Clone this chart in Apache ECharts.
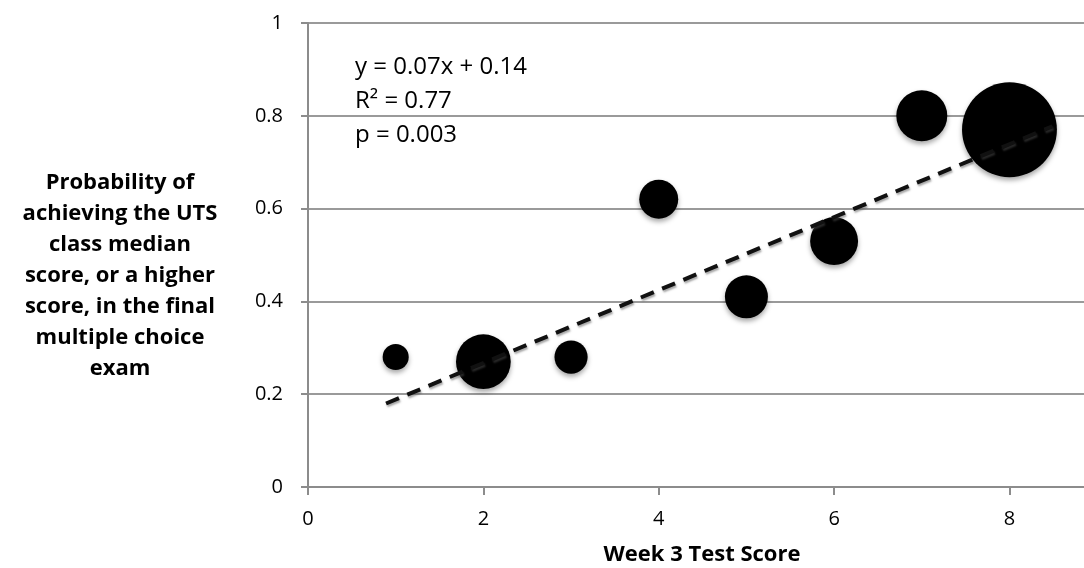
<!DOCTYPE html>
<html lang="en">

<head>
    <meta charset="UTF-8">
    <title>Week 3 Test Score</title>
    <script src="https://cdn.jsdelivr.net/npm/echarts@6/dist/echarts.min.js"></script>
    <style>
        html, body { margin: 0; padding: 0; background: #fff; }
        #bubble_show { width: 1084px; height: 568px; }
    </style>
</head>

<body>
    <div id="bubble_show"></div>

    <script>
        // 数据
        var scores = [1, 2, 3, 4, 5, 6, 7, 8];                         // Week 3 Test Score
        var probs = [0.28, 0.27, 0.28, 0.62, 0.41, 0.53, 0.80, 0.77];   // probability
        var counts = [6.8, 30, 11, 15.2, 18.5, 23, 26, 90];            // bubble size
        var xMax = 8.85;   // axis runs off the right edge of the picture
        var yTicks = [0, 0.2, 0.4, 0.6, 0.8, 1];

        // trendline as drawn in the picture
        var trendSlope = 0.0786;
        var trendIntercept = 0.11;
        var trendFrom = 0.89;
        var trendTo = 8.49;

        var eqLines = ['y = 0.07x + 0.14', 'R² = 0.77', 'p = 0.003'];
        var yName = ['Probability of', 'achieving the UTS', 'class median',
            'score, or a higher', 'score, in the final', 'multiple choice', 'exam'];

        var bubbles = [];
        for (var i = 0; i < scores.length; i++) {
            bubbles.push([scores[i], probs[i], counts[i]]);
        }
        var trend = [
            [trendFrom, trendSlope * trendFrom + trendIntercept],
            [trendTo, trendSlope * trendTo + trendIntercept]
        ];

        var myChart = echarts.init(document.getElementById('bubble_show'));
        var font = '"Open Sans", sans-serif';

        var option = {
            animation: false,
            grid: {
                left: 308,
                top: 23,
                right: 0,
                bottom: 81
            },
            xAxis: {
                type: 'value',
                min: 0,
                max: xMax,
                interval: 2,
                axisLine: { lineStyle: { color: '#8c8c8c', width: 2 } },
                axisTick: { show: true, length: 8, lineStyle: { color: '#8c8c8c', width: 2 } },
                axisLabel: { color: '#000', fontSize: 20, fontFamily: font, margin: 22, showMaxLabel: false },
                splitLine: { show: false }
            },
            yAxis: {
                type: 'value',
                min: yTicks[0],
                max: yTicks[yTicks.length - 1],
                interval: 0.2,
                axisLine: { show: true, lineStyle: { color: '#8c8c8c', width: 2 } },
                axisTick: { show: true, length: 7, lineStyle: { color: '#8c8c8c', width: 2 } },
                axisLabel: { color: '#000', fontSize: 20, fontFamily: font, margin: 25 },
                splitLine: { lineStyle: { color: '#9a9a9a', width: 2 } }
            },
            graphic: [{
                type: 'text',
                left: 355,
                top: 50,
                style: {
                    text: eqLines.join('\n'),
                    fontSize: 24,
                    lineHeight: 34,
                    fontFamily: font,
                    fill: '#000'
                }
            }, {
                type: 'text',
                x: 120,
                y: 167,
                style: {
                    text: yName.join('\n'),
                    fontSize: 22,
                    fontWeight: 'bold',
                    lineHeight: 31,
                    fontFamily: font,
                    align: 'center',
                    fill: '#000'
                }
            }, {
                type: 'text',
                x: 702,
                y: 544,
                style: {
                    text: 'Week 3 Test Score',
                    fontSize: 22,
                    fontWeight: 'bold',
                    fontFamily: font,
                    align: 'center',
                    fill: '#000'
                }
            }],
            series: [{
                type: 'scatter',
                data: bubbles,
                symbolSize: function (val) {
                    return 10 * Math.sqrt(val[2]);
                },
                itemStyle: {
                    color: '#000',
                    opacity: 1,
                    shadowBlur: 5,
                    shadowOffsetY: 3,
                    shadowColor: 'rgba(0,0,0,0.35)'
                },
                z: 2
            }, {
                type: 'line',
                data: trend,
                symbol: 'none',
                lineStyle: {
                    color: '#111',
                    width: 4,
                    type: [14, 9],
                    shadowBlur: 2,
                    shadowOffsetX: 1,
                    shadowOffsetY: 2,
                    shadowColor: 'rgba(80,80,80,0.5)'
                },
                z: 3
            }]
        };

        myChart.setOption(option);
    </script>
</body>

</html>
